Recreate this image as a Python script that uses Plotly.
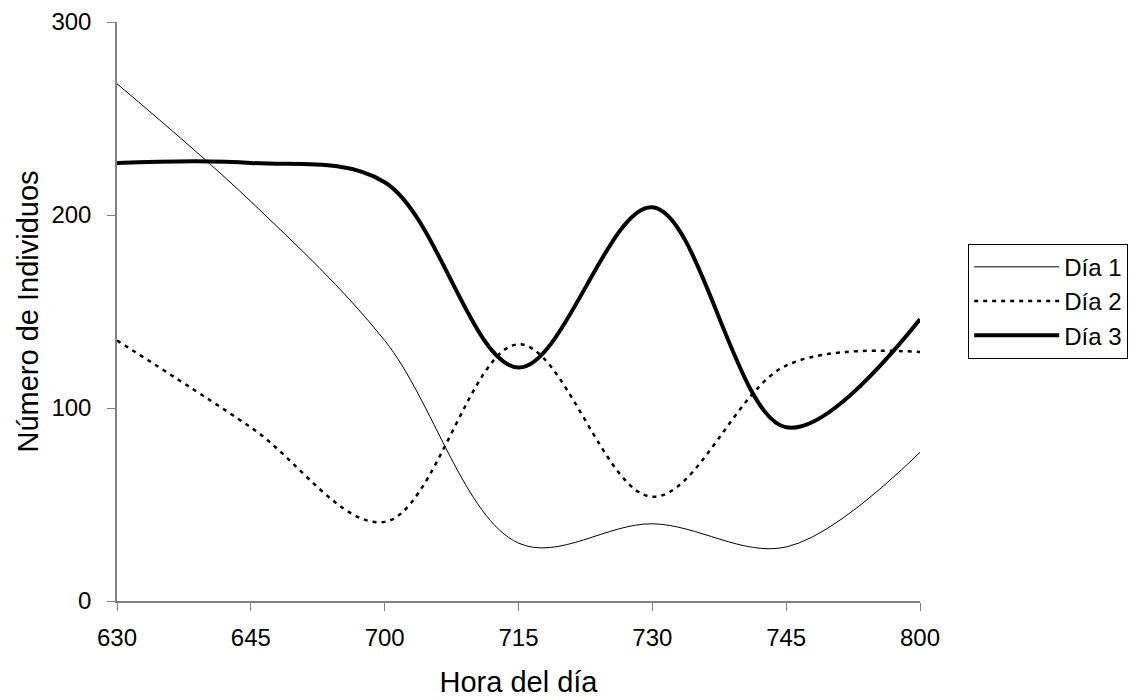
import plotly.graph_objects as go

horas = ["630", "645", "700", "715", "730", "745", "800"]
dia1 = [268, 207, 135, 30, 40, 28, 77]
dia2 = [135, 90, 41, 133, 54, 122, 129]
dia3 = [227, 227, 217, 121, 204, 90, 146]

FONT = dict(family="Liberation Sans, Arial, sans-serif", size=24, color="black")
AXIS_COLOR = "#808080"

xpos = list(range(len(horas)))

fig = go.Figure()
fig.add_trace(go.Scatter(
    x=xpos, y=dia1, name="Día 1", mode="lines",
    line=dict(color="black", width=1, shape="spline", smoothing=1),
))
fig.add_trace(go.Scatter(
    x=xpos, y=dia2, name="Día 2", mode="lines",
    line=dict(color="black", width=2.5, dash="4px,5px", shape="spline", smoothing=1),
))
fig.add_trace(go.Scatter(
    x=xpos, y=dia3, name="Día 3", mode="lines",
    line=dict(color="black", width=4, shape="spline", smoothing=1),
))

fig.update_layout(
    width=1135, height=700,
    margin=dict(l=117, r=215, t=22, b=99, autoexpand=False),
    paper_bgcolor="white", plot_bgcolor="white",
    font=FONT,
    showlegend=True,
    legend=dict(
        x=1.06, y=0.617, xanchor="left", yanchor="top",
        bordercolor="black", borderwidth=1, bgcolor="white",
        itemwidth=85, font=FONT, tracegroupgap=0,
    ),
    xaxis=dict(
        range=[0, len(horas) - 1], tickvals=xpos, ticktext=horas,
        showgrid=False, zeroline=False, automargin=False,
        showline=True, linecolor=AXIS_COLOR, linewidth=1.5,
        ticks="outside", ticklen=8, tickcolor=AXIS_COLOR, tickwidth=1,
        ticklabelstandoff=6,
        title=dict(text="Hora del día", standoff=22), tickfont=FONT,
    ),
    yaxis=dict(
        range=[0, 300], tickvals=[0, 100, 200, 300],
        showgrid=False, zeroline=False, automargin=False,
        showline=True, linecolor=AXIS_COLOR, linewidth=1.5,
        ticks="outside", ticklen=8, tickcolor=AXIS_COLOR, tickwidth=1,
        ticklabelstandoff=11,
        title=dict(text="Número de Individuos", standoff=4), tickfont=FONT,
    ),
)

fig.write_html("out.html")
